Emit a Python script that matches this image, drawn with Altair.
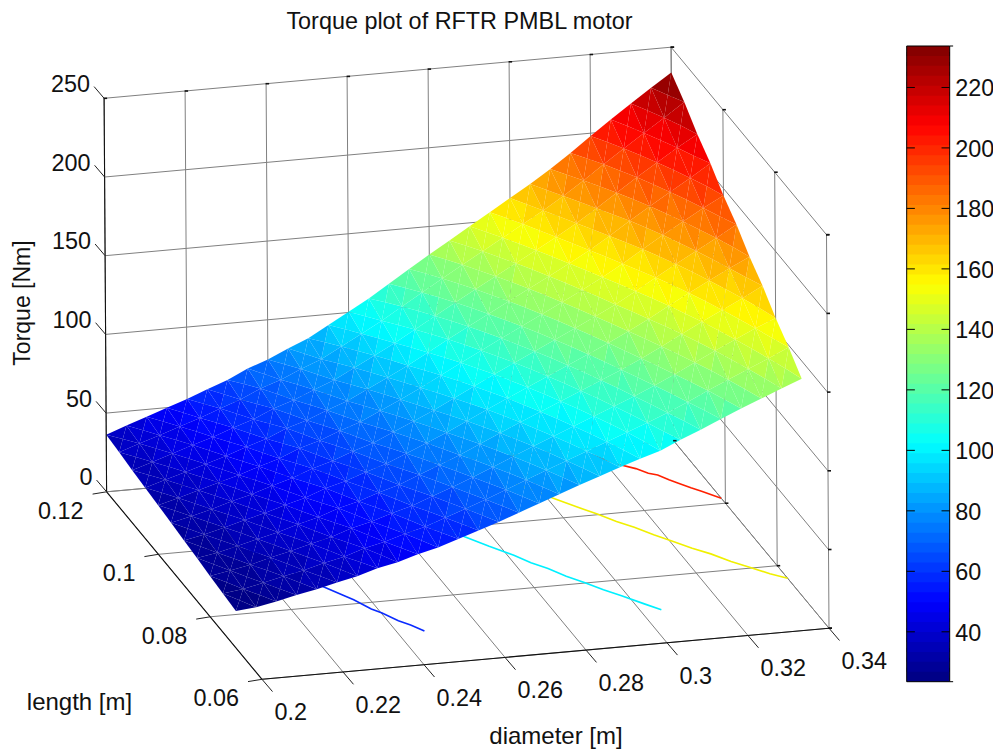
import altair as alt
import pandas as pd

alt.data_transformers.disable_max_rows()

diameters = [0.2 + 0.005 * i for i in range(29)]
lengths = [0.07 + 0.005 * j for j in range(11)]
# torque [Nm], one row per diameter, one value per length
torque = [
    [23.5, 24.8, 26.0, 27.4, 28.7, 30.0, 31.2, 32.4, 33.6, 35.1, 36.2],
    [24.8, 26.4, 28.2, 29.6, 31.3, 33.0, 34.6, 36.3, 37.6, 39.5, 41.0],
    [27.3, 29.2, 30.8, 32.8, 34.6, 36.3, 38.3, 40.0, 41.8, 43.5, 45.4],
    [30.2, 32.2, 34.2, 36.0, 38.1, 40.2, 42.1, 44.0, 46.1, 48.0, 50.0],
    [32.7, 34.9, 37.1, 39.2, 41.4, 43.5, 45.7, 47.9, 50.0, 52.2, 54.3],
    [35.9, 38.3, 40.6, 43.0, 45.3, 47.7, 50.0, 52.4, 54.7, 57.1, 59.4],
    [38.6, 41.2, 43.7, 46.3, 48.8, 51.4, 53.9, 56.5, 59.0, 61.6, 64.1],
    [42.6, 45.4, 48.2, 50.9, 53.7, 56.4, 59.2, 62.0, 64.7, 67.5, 70.2],
    [45.3, 48.3, 51.2, 54.2, 57.1, 60.1, 63.0, 66.0, 68.9, 71.9, 74.8],
    [49.1, 52.3, 55.4, 58.6, 61.7, 64.9, 68.0, 71.2, 74.3, 77.5, 80.6],
    [52.3, 55.6, 59.0, 62.4, 65.8, 69.1, 72.5, 75.9, 79.3, 82.6, 86.0],
    [56.5, 60.1, 63.8, 67.5, 71.2, 74.8, 78.5, 82.2, 85.9, 89.5, 93.2],
    [60.7, 64.6, 68.6, 72.6, 76.6, 80.5, 84.5, 88.5, 92.5, 96.4, 100.4],
    [65.0, 69.3, 73.6, 77.8, 82.1, 86.4, 90.7, 95.0, 99.3, 103.6, 107.8],
    [69.8, 74.4, 79.0, 83.6, 88.3, 92.9, 97.5, 102.1, 106.8, 111.4, 116.0],
    [74.5, 79.5, 84.4, 89.4, 94.4, 99.3, 104.3, 109.3, 114.2, 119.2, 124.2],
    [79.2, 84.5, 89.8, 95.1, 100.4, 105.7, 111.0, 116.3, 121.6, 126.9, 132.2],
    [83.8, 89.4, 95.0, 100.6, 106.3, 111.9, 117.5, 123.1, 128.8, 134.4, 140.0],
    [88.3, 94.3, 100.2, 106.2, 112.1, 118.1, 124.0, 130.0, 135.9, 141.9, 147.8],
    [92.9, 99.1, 105.4, 111.7, 118.0, 124.2, 130.5, 136.8, 143.0, 149.3, 155.6],
    [97.0, 104.0, 110.6, 117.2, 123.8, 130.4, 137.0, 143.6, 150.2, 156.8, 163.4],
    [101.0, 108.9, 115.8, 122.7, 129.7, 136.6, 143.5, 150.4, 157.4, 164.3, 171.2],
    [106.9, 114.1, 121.4, 128.7, 136.0, 143.2, 150.5, 157.8, 165.0, 172.3, 179.6],
    [112.1, 119.8, 127.4, 135.1, 142.7, 150.4, 158.0, 165.7, 173.3, 181.0, 188.6],
    [117.7, 125.8, 133.8, 141.9, 149.9, 158.0, 166.0, 174.1, 182.1, 190.2, 198.2],
    [123.2, 131.6, 140.0, 148.5, 156.9, 165.4, 173.8, 182.2, 190.7, 199.1, 207.6],
    [128.4, 137.2, 146.0, 154.9, 163.7, 172.5, 181.3, 190.1, 198.9, 207.7, 216.6],
    [133.6, 142.8, 152.0, 161.1, 170.3, 179.5, 188.7, 197.9, 207.1, 216.3, 225.4],
    [138.7, 148.7, 157.3, 167.9, 176.4, 187.0, 195.5, 206.0, 214.6, 225.1, 234.0],
]

# floor contours: (diameter, length) pairs
contour_50 = [(0.2465, 0.07), (0.2445, 0.0722), (0.2425, 0.0738), (0.2402, 0.0765), (0.2385, 0.078), (0.2362, 0.0812), (0.235, 0.0825), (0.2318, 0.0858), (0.2285, 0.09), (0.221, 0.10)]
contour_100 = [(0.305, 0.07), (0.3022, 0.0722), (0.2985, 0.0752), (0.2955, 0.0775), (0.2925, 0.0802), (0.2895, 0.0825), (0.2868, 0.0853), (0.284, 0.0875), (0.2815, 0.0902), (0.2775, 0.0935), (0.2737, 0.097), (0.2665, 0.105)]
contour_150 = [(0.34, 0.076), (0.3368, 0.0778), (0.3335, 0.0802), (0.3302, 0.0825), (0.327, 0.0853), (0.3238, 0.0875), (0.3205, 0.0902), (0.3175, 0.0925), (0.3145, 0.0953), (0.3115, 0.0975), (0.3085, 0.1002), (0.305, 0.103), (0.3015, 0.106), (0.295, 0.112)]
contour_200 = [(0.34, 0.1016), (0.3368, 0.1042), (0.335, 0.1055), (0.333, 0.1072), (0.3315, 0.1085), (0.3298, 0.1102), (0.328, 0.111), (0.326, 0.1127), (0.3228, 0.1145), (0.3185, 0.118)]
contour_colors = ["#0a2bff", "#00f0ff", "#f0f000", "#ff2000"]

d_ticks = [0.2, 0.22, 0.24, 0.26, 0.28, 0.3, 0.32, 0.34]
d_labels = ["0.2", "0.22", "0.24", "0.26", "0.28", "0.3", "0.32", "0.34"]
l_ticks = [0.06, 0.08, 0.1, 0.12]
l_labels = ["0.06", "0.08", "0.1", "0.12"]
z_ticks = [0, 50, 100, 150, 200, 250]
cb_ticks = [40, 60, 80, 100, 120, 140, 160, 180, 200, 220]
CB_MIN, CB_MAX = 23.5, 233.7

W, H = 985, 743
FONT = "Liberation Sans"
FS = 23.4


def project(d, l, z):
    a = (d - 0.2) / 0.02
    b = (l - 0.06) / 0.02
    return (262 - 8 + 81 * a - 51.8 * b - 0.01 * z,
            679.3 - 8 - 7.3 * a - 62.5 * b - 1.574 * z)


def jet(t):
    def c(v):
        return max(0.0, min(1.0, v))
    return "#%02x%02x%02x" % tuple(round(255 * c(1.5 - abs(4 * t - k))) for k in (3, 2, 1))


jet64 = [jet((i + 0.5) / 64) for i in range(64)]

xpx = alt.Scale(domain=[0, W], range=[0, W])
ypx = alt.Scale(domain=[0, H], range=[0, H])
cscale = alt.Scale(type="quantize", domain=[CB_MIN, CB_MAX], range=jet64)


def segs(pairs):
    rows = []
    for p, q in pairs:
        rows.append({"x": p[0], "y": p[1], "x2": q[0], "y2": q[1]})
    return pd.DataFrame(rows)


def rules(pairs, color, width=1.0, opacity=1.0):
    return alt.Chart(segs(pairs)).mark_rule(color=color, strokeWidth=width, opacity=opacity).encode(
        x=alt.X("x:Q", scale=xpx, axis=None), x2="x2:Q",
        y=alt.Y("y:Q", scale=ypx, axis=None), y2="y2:Q")


def labels(rows, align, size=FS, **kw):
    return alt.Chart(pd.DataFrame(rows)).mark_text(
        font=FONT, fontSize=size, align=align, baseline="middle", color="#111111", **kw
    ).encode(x=alt.X("x:Q", scale=xpx, axis=None), y=alt.Y("y:Q", scale=ypx, axis=None), text="t:N")


dmin, dmax, lmin, lmax, zmax = 0.2, 0.34, 0.06, 0.12, 250
P = project

grid = []
for d in d_ticks:
    grid.append((P(d, lmin, 0), P(d, lmax, 0)))
    grid.append((P(d, lmax, 0), P(d, lmax, zmax)))
for l in l_ticks:
    grid.append((P(dmin, l, 0), P(dmax, l, 0)))
    grid.append((P(dmax, l, 0), P(dmax, l, zmax)))
for z in z_ticks:
    grid.append((P(dmin, lmax, z), P(dmax, lmax, z)))
    grid.append((P(dmax, lmax, z), P(dmax, lmin, z)))

axes_lines = [(P(dmin, lmin, 0), P(dmax, lmin, 0)), (P(dmin, lmin, 0), P(dmin, lmax, 0)),
              (P(dmin, lmax, 0), P(dmin, lmax, zmax))]
ticks = []
for d in d_ticks:
    p = P(d, lmin, 0)
    ticks.append((p, (p[0] + 10.5, p[1] + 12.3)))
for l in l_ticks:
    p = P(dmin, l, 0)
    ticks.append((p, (p[0] - 14, p[1] + 2.3)))
for z in z_ticks:
    p = P(dmin, lmax, z)
    ticks.append((p, (p[0] - 10, p[1] - 11.7)))

stubs = []
for d in d_ticks:
    stubs.append(P(d, lmax, zmax))
for l in l_ticks:
    stubs.append(P(dmax, l, zmax))
    stubs.append(P(dmax, l, 0))
for z in z_ticks:
    stubs.append(P(dmax, lmin, z))
stub_pairs = [((p[0] - 0.5, p[1]), (p[0] + 3, p[1])) for p in stubs]

contour_layers = []
for pts, col in zip([contour_50, contour_100, contour_150, contour_200], contour_colors):
    rows = []
    for k, (d, l) in enumerate(pts):
        x, y = P(d, l, 0)
        rows.append({"x": x, "y": y, "k": k})
    contour_layers.append(
        alt.Chart(pd.DataFrame(rows)).mark_line(color=col, strokeWidth=1.6).encode(
            x=alt.X("x:Q", scale=xpx, axis=None), y=alt.Y("y:Q", scale=ypx, axis=None), order="k:Q"))

features = []
for i in range(len(diameters) - 1):
    for j in range(len(lengths) - 1):
        # each cell is painted as four flat triangles meeting at the cell's centre
        corners = [(i, j), (i + 1, j), (i + 1, j + 1), (i, j + 1)]
        pts = [P(diameters[m], lengths[n], torque[m][n]) for m, n in corners]
        vals = [torque[m][n] for m, n in corners]
        cx = sum(p[0] for p in pts) / 4
        cy = sum(p[1] for p in pts) / 4
        cv = sum(vals) / 4
        for k in range(4):
            p, q = pts[k], pts[(k + 1) % 4]
            ring = [list(p), list(q), [cx, cy], list(p)]
            features.append({"type": "Feature", "properties": {"z": (vals[k] + vals[(k + 1) % 4] + cv) / 3},
                             "geometry": {"type": "Polygon", "coordinates": [ring]}})

surface = alt.Chart(alt.Data(values=features)).mark_geoshape(strokeWidth=0).encode(
    color=alt.Color("properties.z:Q", scale=cscale, legend=None)
).project(type="identity", scale=1, translate=[0, 0])

x_labels = [{"x": P(d, lmin, 0)[0] + 12.5, "y": P(d, lmin, 0)[1] + 33.9, "t": t} for d, t in zip(d_ticks, d_labels)]
y_labels = [{"x": P(dmin, l, 0)[0] - 23, "y": P(dmin, l, 0)[1] + 20, "t": t} for l, t in zip(l_ticks, l_labels)]
z_labels = [{"x": P(dmin, lmax, z)[0] - 14, "y": P(dmin, lmax, z)[1] - 13.5, "t": str(z)} for z in z_ticks]

title = "Torque plot of RFTR PMBL motor"
xtitle = "diameter [m]"
ytitle = "length [m]"
ztitle = "Torque [Nm]"

titles = [
    labels([{"x": 451.5, "y": 14, "t": title}], "center"),
    labels([{"x": 548, "y": 728.5, "t": xtitle}], "center", size=24),
    labels([{"x": 71.5, "y": 695, "t": ytitle}], "center", size=24),
    labels([{"x": 14.5, "y": 295, "t": ztitle}], "center", size=23, angle=270),
]

# colour bar
cbx = alt.Scale(domain=[0, 1], range=[898.7, 941.7])
cby = alt.Scale(domain=[CB_MIN, CB_MAX], range=[673.7, 38])
step = (CB_MAX - CB_MIN) / 64
cb_df = pd.DataFrame({"v0": [CB_MIN + i * step for i in range(64)],
                      "v1": [min(CB_MAX, CB_MIN + (i + 1.4) * step) for i in range(64)],
                      "mid": [CB_MIN + (i + 0.5) * step for i in range(64)]})
cb_df["a"] = 0
cb_df["b"] = 1
cbar = alt.Chart(cb_df).mark_rect(strokeWidth=0).encode(
    x=alt.X("a:Q", scale=cbx, axis=None), x2="b:Q",
    y=alt.Y("v0:Q", scale=cby, axis=None), y2="v1:Q",
    color=alt.Color("mid:Q", scale=cscale, legend=None))
cb_frame = alt.Chart(pd.DataFrame({"a": [0], "b": [1], "v0": [CB_MIN], "v1": [CB_MAX]})).mark_rect(
    fillOpacity=0, stroke="black", strokeWidth=1).encode(
    x=alt.X("a:Q", scale=cbx, axis=None), x2="b:Q",
    y=alt.Y("v0:Q", scale=cby, axis=None), y2="v1:Q")
tick_rows = []
for v in cb_ticks:
    tick_rows += [{"a": 0, "b": 0.19, "v": v}, {"a": 0.81, "b": 1, "v": v}]
tick_rows += [{"a": 1, "b": 1.08, "v": CB_MIN}, {"a": 1, "b": 1.08, "v": CB_MAX}]
cb_tick = alt.Chart(pd.DataFrame(tick_rows)).mark_rule(color="black", strokeWidth=1).encode(
    x=alt.X("a:Q", scale=cbx, axis=None), x2="b:Q", y=alt.Y("v:Q", scale=cby, axis=None))
cb_text = alt.Chart(pd.DataFrame({"v": cb_ticks, "t": [str(v) for v in cb_ticks], "a": [1] * len(cb_ticks)})).mark_text(
    font=FONT, fontSize=FS, align="left", baseline="middle", dx=5.5, dy=2, color="#111111").encode(
    x=alt.X("a:Q", scale=cbx, axis=None), y=alt.Y("v:Q", scale=cby, axis=None), text="t:N")

chart = alt.layer(
    rules(grid, "#808080", 1.0),
    *contour_layers,
    surface,
    rules(axes_lines, "#111111", 1.1),
    rules(ticks, "#222222", 1.0),
    rules(stub_pairs, "#111111", 1.6),
    labels(x_labels, "left"), labels(y_labels, "right"), labels(z_labels, "right"),
    *titles,
    cbar, cb_frame, cb_tick, cb_text,
).resolve_scale(x="independent", y="independent").properties(
    width=W, height=H, padding=0, autosize=alt.AutoSizeParams(type="none")
).configure_view(stroke=None)

chart.save("out.html", embed_options={"renderer": "svg", "actions": False})
